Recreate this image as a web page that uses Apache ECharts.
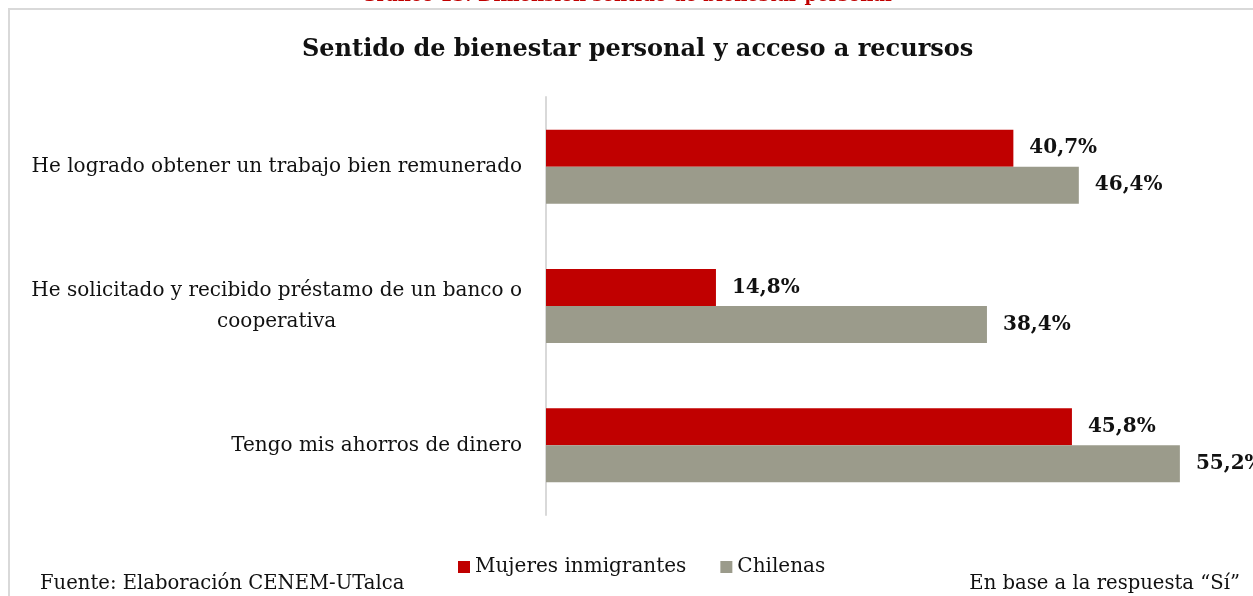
<!DOCTYPE html>
<html>
<head>
<meta charset="utf-8">
<script src="https://cdn.jsdelivr.net/npm/echarts@6/dist/echarts.min.js"></script>
<style>
  html, body { margin: 0; padding: 0; background: #fff; }
  #chart { width: 1253px; height: 596px; }
</style>
</head>
<body>
<div id="chart"></div>
<script>
  // datos
  const categories = [
    'He logrado obtener un trabajo bien remunerado',
    'He solicitado y recibido préstamo de un banco o\ncooperativa',
    'Tengo mis ahorros de dinero'
  ];
  const seriesNames = ['Mujeres inmigrantes', 'Chilenas'];
  const inmigrantes = [40.7, 14.8, 45.8];
  const chilenas = [46.4, 38.4, 55.2];

  const serif = "'DejaVu Serif', serif";
  const colors = ['#c00000', '#9b9b8b'];

  const myChart = echarts.init(document.getElementById('chart'));

  const labelCfg = {
    show: true,
    position: 'right',
    distance: 16,
    fontFamily: serif,
    fontWeight: 'bold',
    fontSize: 20,
    color: '#111',
    formatter: p => p.value.toFixed(1).replace('.', ',') + '%'
  };

  const option = {
    backgroundColor: '#fff',
    animation: false,
    title: [{
      text: 'Sentido de bienestar personal y acceso a recursos',
      left: 297,
      top: 33,
      textStyle: { fontFamily: serif, fontWeight: 'bold', fontSize: 24, color: '#111' }
    }, {
      text: 'Fuente: Elaboración CENEM-UTalca',
      left: 40,
      top: 574,
      padding: 0,
      textStyle: { fontFamily: serif, fontWeight: 'normal', fontSize: 19.6, color: '#111' }
    }, {
      text: 'En base a la respuesta “Sí”',
      right: 13,
      top: 574,
      padding: 0,
      textStyle: { fontFamily: serif, fontWeight: 'normal', fontSize: 19.6, color: '#111' }
    }],
    graphic: [{
      type: 'text',
      left: 'center',
      top: -13,
      style: {
        text: 'Gráfico 13: Dimensión sentido de bienestar personal',
        font: "bold 18px 'DejaVu Serif', serif",
        fill: '#c00000'
      }
    }, {
      type: 'line',
      shape: { x1: 8, y1: 9, x2: 1253, y2: 9 },
      style: { stroke: '#d9d9d9', lineWidth: 2 }
    }, {
      type: 'line',
      shape: { x1: 9, y1: 9, x2: 9, y2: 596 },
      style: { stroke: '#d9d9d9', lineWidth: 2 }
    }],
    legend: {
      data: seriesNames,
      bottom: 14,
      left: 453,
      itemWidth: 12,
      itemHeight: 12,
      itemGap: 34,
      icon: 'rect',
      textStyle: { fontFamily: serif, fontSize: 20, color: '#111' }
    },
    grid: {
      left: 546,
      right: 18,
      top: 97,
      bottom: 81
    },
    xAxis: {
      type: 'value',
      min: 0,
      max: 60,
      show: false
    },
    yAxis: {
      type: 'category',
      data: categories,
      inverse: true,
      axisLine: { show: true, lineStyle: { color: '#d9d9d9', width: 2 } },
      axisTick: { show: false },
      axisLabel: {
        margin: 24,
        fontFamily: serif,
        fontSize: 20,
        color: '#111',
        lineHeight: 31,
        formatter: v => v.split('\n').map(l => '{c|' + l + '}').join('\n'),
        rich: {
          c: { align: 'center', fontFamily: serif, fontSize: 20, color: '#111', lineHeight: 31 }
        }
      }
    },
    series: [{
      name: seriesNames[0],
      type: 'bar',
      data: inmigrantes,
      barWidth: 37,
      barGap: '0%',
      itemStyle: { color: colors[0] },
      label: labelCfg
    }, {
      name: seriesNames[1],
      type: 'bar',
      data: chilenas,
      barWidth: 37,
      barGap: '0%',
      itemStyle: { color: colors[1] },
      label: labelCfg
    }]
  };

  myChart.setOption(option);
</script>
</body>
</html>
